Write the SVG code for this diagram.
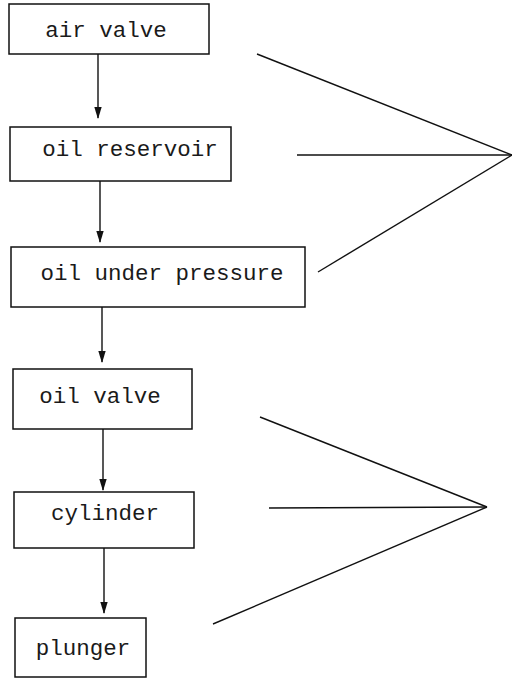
<svg xmlns="http://www.w3.org/2000/svg" width="512" height="679" viewBox="0 0 512 679">
<defs>
<style>
.box{fill:#fff;stroke:#111;stroke-width:1.5}
.lbl{font-family:"Liberation Mono","DejaVu Sans Mono",monospace;font-size:22.5px;fill:#1a1a1a;text-anchor:middle}
.con{stroke:#111;stroke-width:1.4;fill:none}
</style>
<marker id="ah" markerWidth="12" markerHeight="8" refX="11" refY="4" orient="auto" markerUnits="userSpaceOnUse" viewBox="0 0 12 8">
<path d="M0,0.3 L12,4 L0,7.7 Z" fill="#111"/>
</marker>
</defs>
<rect width="512" height="679" fill="#fff"/>
<g id="n1"><rect class="box" x="9" y="4" width="200" height="50"/><text class="lbl" x="106" y="37">air valve</text></g>
<g id="n2"><rect class="box" x="10" y="127" width="221" height="54"/><text class="lbl" x="130" y="156">oil reservoir</text></g>
<g id="n3"><rect class="box" x="11" y="247" width="294" height="60"/><text class="lbl" x="162" y="280">oil under pressure</text></g>
<g id="n4"><rect class="box" x="13" y="369" width="179" height="60"/><text class="lbl" x="100" y="403">oil valve</text></g>
<g id="n5"><rect class="box" x="14" y="492" width="180" height="56"/><text class="lbl" x="105" y="520">cylinder</text></g>
<g id="n6"><rect class="box" x="15" y="618" width="131" height="59"/><text class="lbl" x="83" y="655">plunger</text></g>
<g id="connectors">
<line class="con" x1="98" y1="54" x2="98" y2="118" marker-end="url(#ah)"/>
<line class="con" x1="100" y1="181" x2="100" y2="242" marker-end="url(#ah)"/>
<line class="con" x1="102" y1="307" x2="102" y2="362" marker-end="url(#ah)"/>
<line class="con" x1="103" y1="429" x2="103" y2="490" marker-end="url(#ah)"/>
<line class="con" x1="104" y1="548" x2="104" y2="613" marker-end="url(#ah)"/>
<line class="con" x1="257" y1="54" x2="512" y2="155"/>
<line class="con" x1="297" y1="155" x2="512" y2="155"/>
<line class="con" x1="318" y1="272" x2="512" y2="155"/>
<line class="con" x1="260" y1="417" x2="487" y2="507"/>
<line class="con" x1="269" y1="508" x2="487" y2="507"/>
<line class="con" x1="213" y1="624" x2="487" y2="507"/>
</g>
</svg>
